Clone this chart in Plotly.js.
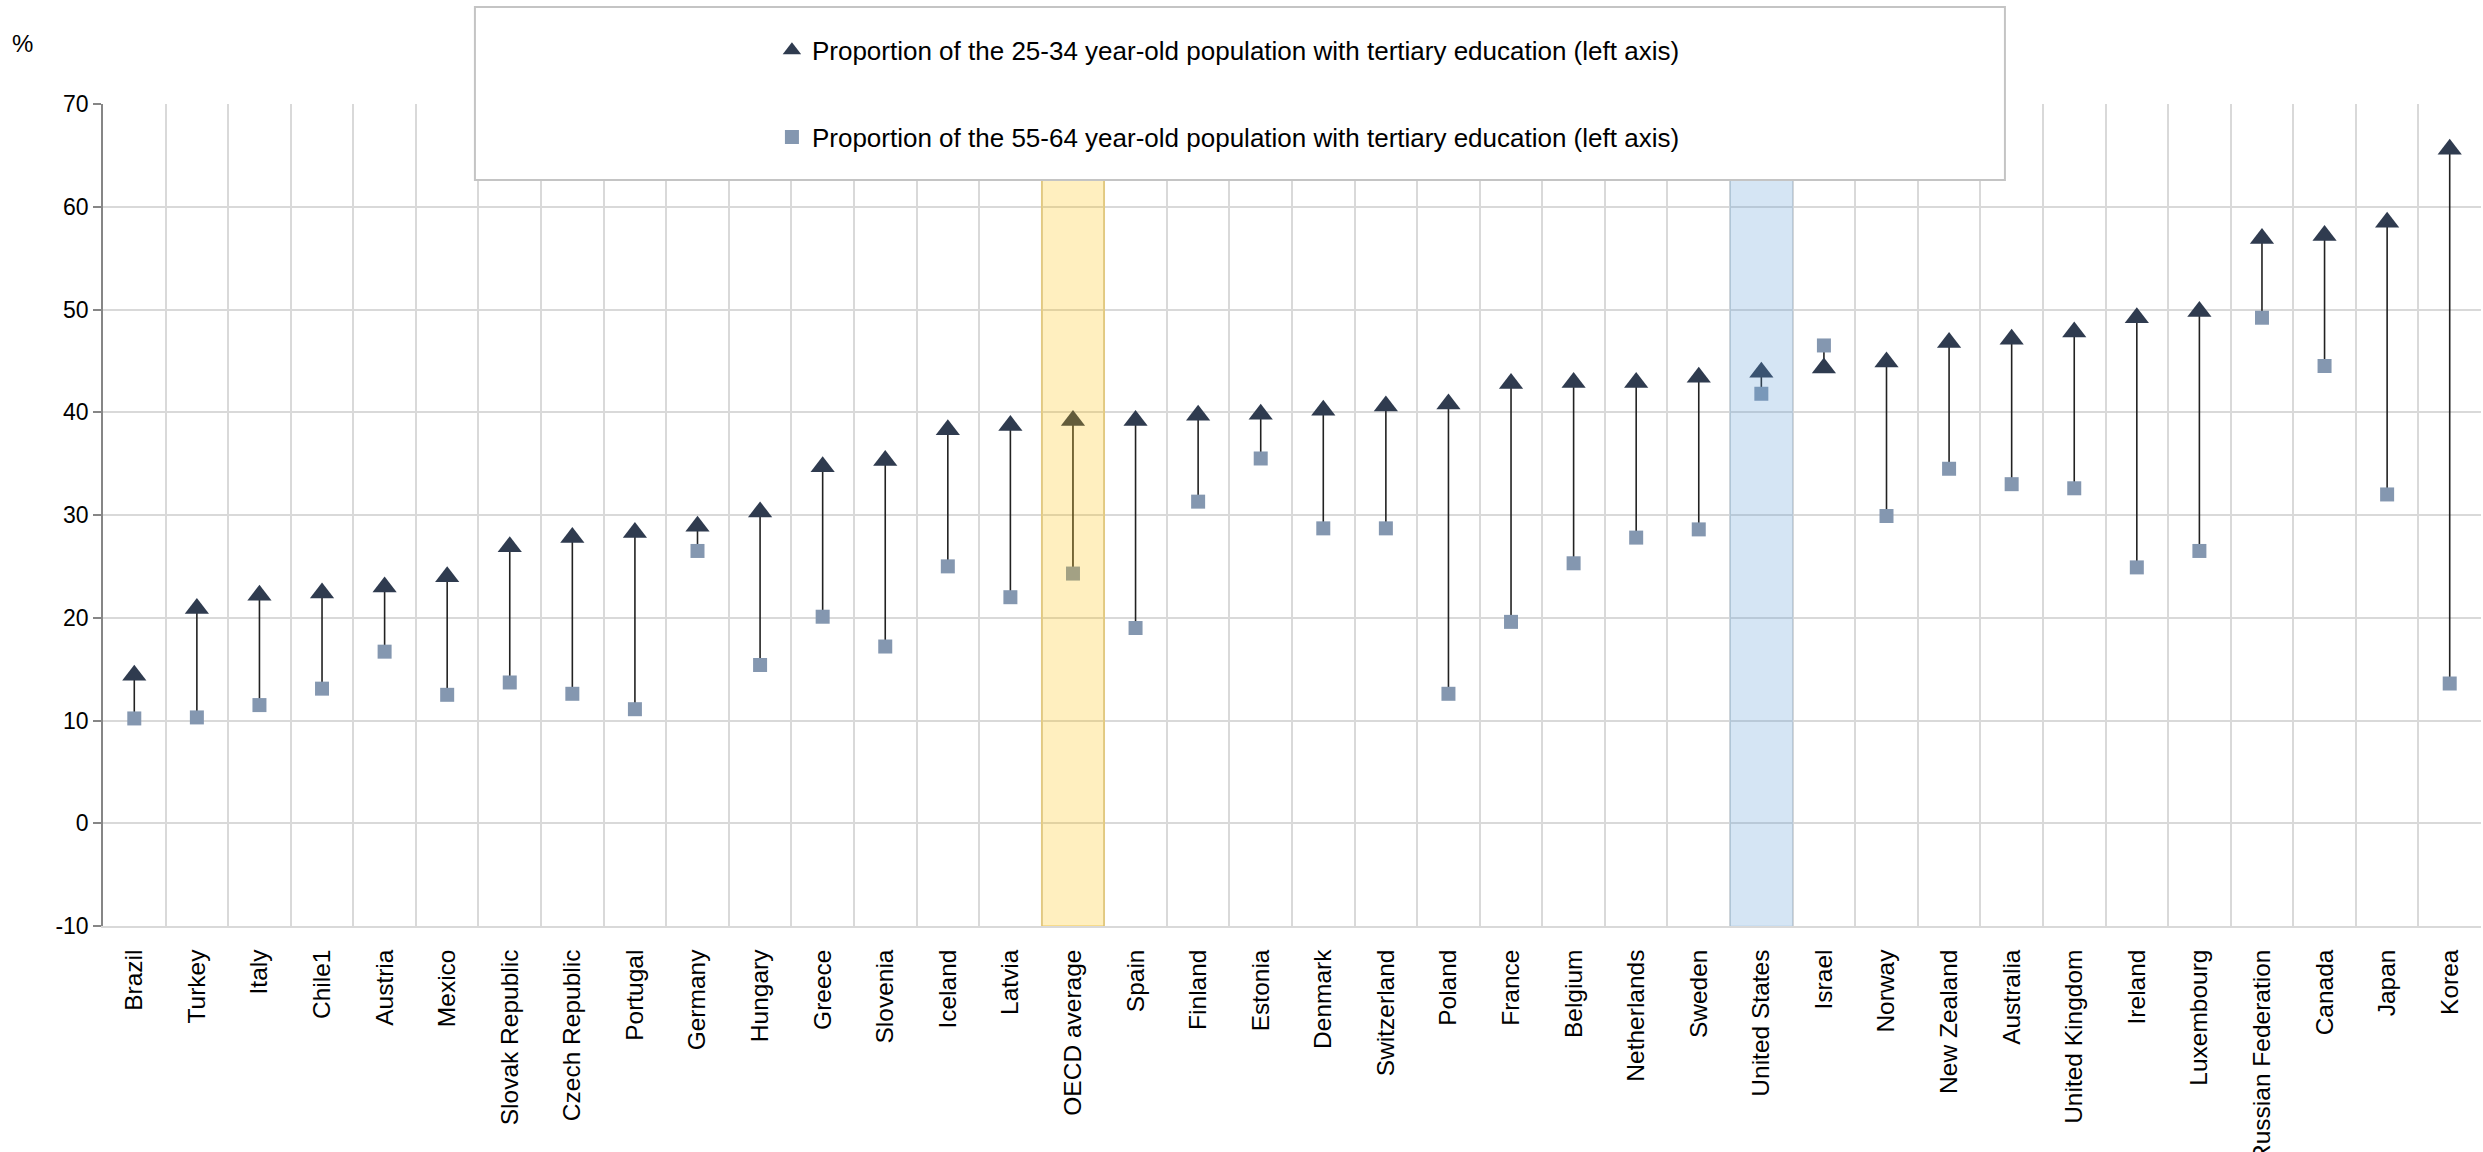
<!DOCTYPE html>
<html><head><meta charset="utf-8">
<script src="https://cdn.plot.ly/plotly-3.0.1.min.js"></script>
<style>html,body{margin:0;padding:0;background:#fff;} #chart{width:2483px;height:1152px;}</style>
</head><body><div id="chart"></div>
<script>
// ---- data ----
const categories = ['Brazil','Turkey','Italy','Chile1','Austria','Mexico','Slovak Republic','Czech Republic','Portugal','Germany','Hungary','Greece','Slovenia','Iceland','Latvia','OECD average','Spain','Finland','Estonia','Denmark','Switzerland','Poland','France','Belgium','Netherlands','Sweden','United States','Israel','Norway','New Zealand','Australia','United Kingdom','Ireland','Luxembourg','Russian Federation','Canada','Japan','Korea'];
const age25to34 = [14.4,20.9,22.2,22.4,23.0,24.0,26.9,27.8,28.3,28.9,30.3,34.7,35.3,38.3,38.7,39.2,39.2,39.7,39.8,40.2,40.6,40.8,42.8,42.9,42.9,43.4,43.9,44.3,44.9,46.8,47.1,47.8,49.2,49.8,56.9,57.2,58.5,65.6];
const age55to64 = [10.2,10.3,11.5,13.1,16.7,12.5,13.7,12.6,11.1,26.5,15.4,20.1,17.2,25.0,22.0,24.3,19.0,31.3,35.5,28.7,28.7,12.6,19.6,25.3,27.8,28.6,41.8,46.5,29.9,34.5,33.0,32.6,24.9,26.5,49.2,44.5,32.0,13.6];
const seriesNames = ['Proportion of the 25-34 year-old population with tertiary education (left axis)',
                     'Proportion of the 55-64 year-old population with tertiary education (left axis)'];
const highlightCategories = ['OECD average','United States'];
const highlightTop = [62.8, 62.8];
const yTickVals = [-10,0,10,20,30,40,50,60,70];
const yTickText = ['-10','0','10','20','30','40','50','60','70'];
const yRange = [-10, 70];

// ---- styles ----
const FONT = 'Liberation Sans, Arial, sans-serif';
const highlightFill = ['rgba(255,192,0,0.25)','rgba(91,155,213,0.26)'];
const highlightLine = ['rgba(235,185,40,0.45)','rgba(91,155,213,0.12)'];

const lineX = [], lineY = [];
categories.forEach((c,i)=>{ lineX.push(c,c,null); lineY.push(age25to34[i], age55to64[i], null); });

const traces = [
  {type:'scatter', mode:'lines', x:lineX, y:lineY, showlegend:false, hoverinfo:'skip',
   line:{color:'#222222', width:1.6}},
  {type:'scatter', mode:'markers', x:categories, y:age25to34, name:seriesNames[0], legendgroup:'a',
   marker:{symbol:'triangle-up', size:21, color:'#2f3b4f'}},
  {type:'scatter', mode:'markers', x:categories, y:age55to64, name:seriesNames[1], legendgroup:'b',
   marker:{symbol:'square', size:14, color:'#8497b0'}}
];

const shapes = highlightCategories.map((c,k)=>{
  const idx = categories.indexOf(c);
  return {type:'rect', xref:'x', yref:'y', x0:idx-0.5, x1:idx+0.5, y0:yRange[0], y1:highlightTop[k],
          fillcolor:highlightFill[k], line:{color:highlightLine[k], width:1.5}, layer:'above'};
});
// legend frame
shapes.push({type:'rect', xref:'paper', yref:'paper', x0:0.1564, x1:0.7998, y0:0.9075, y1:1.118,
             fillcolor:'#ffffff', line:{color:'#c4c4c4', width:2}, layer:'above'});

const layout = {
  width:2483, height:1152,
  margin:{l:103, r:2, t:104, b:226},
  paper_bgcolor:'#ffffff', plot_bgcolor:'#ffffff',
  font:{family:FONT, color:'#000000'},
  showlegend:true,
  legend:{x:0.2813, xanchor:'left', y:1.094, yanchor:'top', bgcolor:'rgba(0,0,0,0)', borderwidth:0,
          font:{family:FONT, size:26, color:'#000000'}, tracegroupgap:50, traceorder:'grouped'},
  xaxis:{type:'category', categoryorder:'array', categoryarray:categories,
         tickson:'boundaries', showgrid:true, gridcolor:'#d9d9d9', gridwidth:1.5,
         ticks:'', tickangle:-90, tickfont:{family:FONT, size:24.5, color:'#000000'},
         showline:true, linecolor:'#d9d9d9', linewidth:1.5, zeroline:false,
         range:[-0.5, categories.length-0.5], ticklabelstandoff:12},
  yaxis:{range:yRange, tickvals:yTickVals, ticktext:yTickText, showgrid:true, gridcolor:'#d9d9d9', gridwidth:1.5,
         zeroline:false, showline:true, linecolor:'#868686', linewidth:1.5,
         ticks:'outside', ticklen:8, tickcolor:'#868686', tickwidth:1.5,
         tickfont:{family:FONT, size:23, color:'#000000'}},
  shapes:shapes,
  annotations:[{text:'%', xref:'paper', yref:'paper', x:-0.039, y:1.074, xanchor:'left', yanchor:'middle',
                showarrow:false, font:{family:FONT, size:24, color:'#000000'}}]
};

Plotly.newPlot('chart', traces, layout, {displayModeBar:false, responsive:false});
</script>
</body></html>
